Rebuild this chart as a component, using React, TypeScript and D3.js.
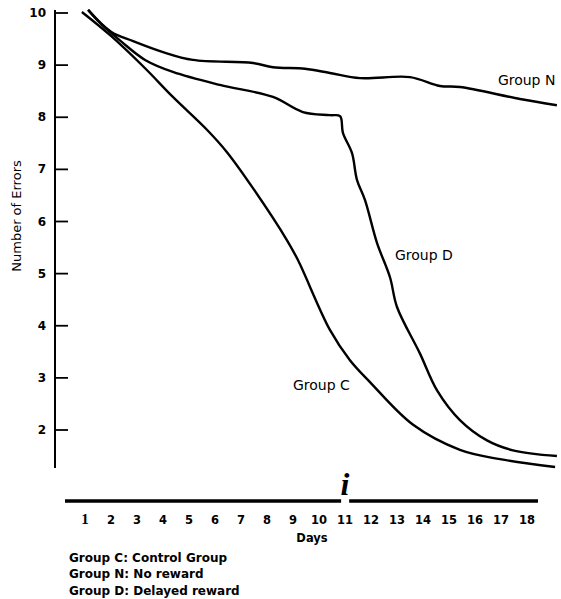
import React from "react";
import * as d3 from "d3";

const yTicks = [2, 3, 4, 5, 6, 7, 8, 9, 10];
const xTicks = [1, 2, 3, 4, 5, 6, 7, 8, 9, 10, 11, 12, 13, 14, 15, 16, 17, 18];
const xLabel = "Days";
const yLabel = "Number of Errors";

// [day, number of errors]
const groupC: [number, number][] = [
  [0.88, 10.02], [2.0, 9.56], [3.31, 8.94], [4.38, 8.39], [5.69, 7.76], [6.46, 7.33],
  [7.46, 6.64], [8.77, 5.64], [9.19, 5.26], [10.42, 3.92], [11.19, 3.34], [11.96, 2.92],
  [13.62, 2.1], [15.42, 1.62], [16.96, 1.44], [19.08, 1.29],
];
const groupD: [number, number][] = [
  [1.12, 10.06], [1.58, 9.81], [2.4, 9.45], [3.31, 9.1], [4.38, 8.87], [6.19, 8.62],
  [8.23, 8.39], [9.38, 8.1], [10.42, 8.04], [10.81, 8.02], [10.92, 7.7], [11.27, 7.31],
  [11.46, 6.8], [11.77, 6.41], [12.23, 5.59], [12.73, 4.93], [13.0, 4.36], [13.88, 3.47],
  [14.54, 2.76], [15.42, 2.19], [16.46, 1.8], [17.46, 1.61], [19.15, 1.5],
];
const groupN: [number, number][] = [
  [1.12, 10.06], [2.0, 9.64], [2.85, 9.46], [4.0, 9.25], [5.15, 9.1], [7.46, 9.04],
  [8.23, 8.96], [9.46, 8.93], [10.42, 8.85], [11.58, 8.75], [13.5, 8.77], [14.65, 8.6],
  [15.42, 8.58], [17.73, 8.35], [19.15, 8.23],
];

const seriesLabels = [
  { name: "Group N", day: 16.88, value: 8.62 },
  { name: "Group D", day: 12.92, value: 5.26 },
  { name: "Group C", day: 9.0, value: 2.77 },
];
const legendLines = [
  "Group C: Control Group",
  "Group N: No reward",
  "Group D: Delayed reward",
];

export default function App() {
  const x = d3.scaleLinear().domain([1, 18]).range([85, 527]);
  const y = d3.scaleLinear().domain([2, 10]).range([430, 13]);
  const line = d3
    .line<[number, number]>()
    .x((d) => x(d[0]))
    .y((d) => y(d[1]))
    .curve(d3.curveCatmullRom.alpha(0.5));

  const sans = "'DejaVu Sans', Arial, sans-serif";
  const serif = "'Liberation Serif', 'Times New Roman', serif";

  return (
    <svg
      width={561}
      height={599}
      style={{ position: "absolute", left: 0, top: 0, background: "#fff" }}
    >
      {/* y axis */}
      <line x1={55} x2={55} y1={10} y2={468} stroke="#000" strokeWidth={2} />
      {yTicks.map((t) => (
        <g key={t}>
          <line x1={55} x2={68} y1={y(t)} y2={y(t)} stroke="#000" strokeWidth={1.8} />
          <text
            x={46}
            y={y(t)}
            textAnchor="end"
            dominantBaseline="central"
            fontFamily={sans}
            fontWeight="bold"
            fontSize={12}
          >
            {t}
          </text>
        </g>
      ))}
      <text
        transform="translate(21,216) rotate(-90)"
        textAnchor="middle"
        fontFamily={sans}
        fontSize={13}
      >
        {yLabel}
      </text>

      {/* curves */}
      {[groupN, groupD, groupC].map((s, i) => (
        <path key={i} d={line(s) || ""} fill="none" stroke="#000" strokeWidth={2.4} strokeLinejoin="round" />
      ))}
      {seriesLabels.map((l) => (
        <text key={l.name} x={x(l.day)} y={y(l.value)} fontFamily={sans} fontSize={14}>
          {l.name}
        </text>
      ))}

      {/* x axis (broken) */}
      <line x1={65} x2={x(10.85)} y1={501} y2={501} stroke="#000" strokeWidth={3.5} />
      <line x1={x(11.16)} x2={538} y1={501} y2={501} stroke="#000" strokeWidth={3.5} />
      <text
        x={x(11)}
        y={495}
        textAnchor="middle"
        fontFamily={serif}
        fontStyle="italic"
        fontWeight="bold"
        fontSize={32}
      >
        i
      </text>
      {xTicks.map((t) => (
        <text
          key={t}
          x={x(t)}
          y={524}
          textAnchor="middle"
          fontFamily={t === 1 ? serif : sans}
          fontWeight="bold"
          fontSize={t === 1 ? 15 : 11.5}
        >
          {t}
        </text>
      ))}
      <text x={312} y={542} textAnchor="middle" fontFamily={sans} fontWeight="bold" fontSize={11.5}>
        {xLabel}
      </text>

      {/* legend */}
      {legendLines.map((t, i) => (
        <text key={t} x={69} y={562 + i * 16.3} fontFamily={sans} fontWeight="bold" fontSize={12}>
          {t}
        </text>
      ))}
    </svg>
  );
}
